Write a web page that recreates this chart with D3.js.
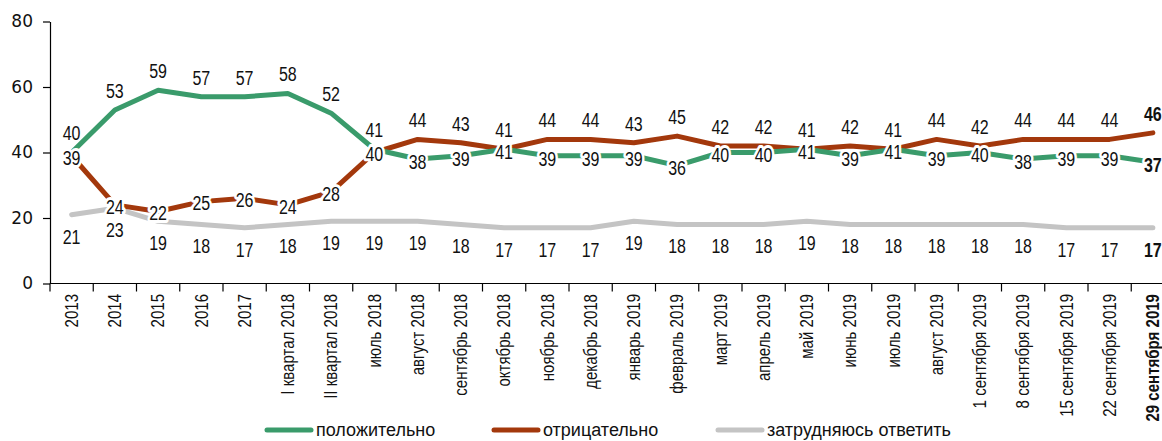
<!DOCTYPE html>
<html>
<head>
<meta charset="utf-8">
<script src="https://cdn.jsdelivr.net/npm/d3@7"></script>
<style>
  body { margin: 0; background: #fff; }
  svg { display: block; }
</style>
</head>
<body>
<script>
// categories along the x axis
var categories = ["2013", "2014", "2015", "2016", "2017", "I квартал 2018", "II квартал 2018",
  "июль 2018", "август 2018", "сентябрь 2018", "октябрь 2018", "ноябрь 2018", "декабрь 2018",
  "январь 2019", "февраль 2019", "март 2019", "апрель 2019", "май 2019", "июнь 2019", "июль 2019",
  "август 2019", "1 сентября 2019", "8 сентября 2019", "15 сентября 2019", "22 сентября 2019",
  "29 сентября 2019"];

var positive = [40, 53, 59, 57, 57, 58, 52, 41, 38, 39, 41, 39, 39, 39, 36, 40, 40, 41, 39, 41, 39, 40, 38, 39, 39, 37];
var negative = [39, 24, 22, 25, 26, 24, 28, 40, 44, 43, 41, 44, 44, 43, 45, 42, 42, 41, 42, 41, 44, 42, 44, 44, 44, 46];
var hardToSay = [21, 23, 19, 18, 17, 18, 19, 19, 19, 18, 17, 17, 17, 19, 18, 18, 18, 19, 18, 18, 18, 18, 18, 17, 17, 17];

var yTicks = [0, 20, 40, 60, 80];
var seriesNames = ["положительно", "отрицательно", "затрудняюсь ответить"];

var w = 1162, h = 441;
var green = "#3a9b6b", red = "#a3380c", grey = "#c4c4c4";
var sans = "'Liberation Sans', Arial, sans-serif";
var squeeze = 0.82;   // narrow look, like Arial Narrow

var svg = d3.select("body").append("svg")
  .attr("width", w)
  .attr("height", h);

var x = d3.scaleBand()
  .domain(categories)
  .range([50, 50 + categories.length * 43.25]);

var y = d3.scaleLinear()
  .domain([0, 80])
  .range([283.5, 21.5]);

var cx = function(i) { return x(categories[i]) + x.bandwidth() / 2; };

// y axis
var yAxis = svg.append("g")
  .attr("transform", "translate(50,0)")
  .call(d3.axisLeft(y).tickValues(yTicks).tickSize(7).tickSizeOuter(0).tickPadding(10));
yAxis.select(".domain").attr("stroke", "#000").attr("stroke-width", 1.2);
yAxis.selectAll(".tick line").attr("stroke", "#000").attr("stroke-width", 1.2);
yAxis.selectAll("text")
  .attr("font-family", "'DejaVu Sans', sans-serif")
  .attr("font-size", "17px")
  .attr("fill", "#111");

// x axis: base line, boundary ticks, rotated labels
svg.append("line")
  .attr("x1", 50).attr("x2", w)
  .attr("y1", 283.5).attr("y2", 283.5)
  .attr("stroke", "#000").attr("stroke-width", 1.2);

svg.selectAll(".xtick")
  .data(categories)
  .enter()
  .append("line")
  .attr("class", "xtick")
  .attr("x1", function(d) { return x(d); })
  .attr("x2", function(d) { return x(d); })
  .attr("y1", 283.5)
  .attr("y2", 291.5)
  .attr("stroke", "#000")
  .attr("stroke-width", 1.2);

svg.selectAll(".xlabel")
  .data(categories)
  .enter()
  .append("text")
  .attr("class", "xlabel")
  .attr("transform", function(d) {
    return "translate(" + (x(d) + x.bandwidth() / 2) + ",294) rotate(-90) scale(" + 0.86 + ",1)";
  })
  .attr("text-anchor", "end")
  .attr("dy", "0.35em")
  .attr("font-family", sans)
  .attr("font-size", "17.5px")
  .attr("font-weight", function(d, i) { return i == categories.length - 1 ? "bold" : "normal"; })
  .attr("fill", "#111")
  .text(function(d) { return d; });

// lines
var line = d3.line()
  .x(function(d, i) { return cx(i); })
  .y(function(d) { return y(d); });

[[hardToSay, grey], [negative, red], [positive, green]].forEach(function(s) {
  svg.append("path")
    .datum(s[0])
    .attr("d", line)
    .attr("fill", "none")
    .attr("stroke", s[1])
    .attr("stroke-width", 5)
    .attr("stroke-linejoin", "round")
    .attr("stroke-linecap", "round");
});

// value labels
function labels(data, cls, offset, halo) {
  svg.selectAll("." + cls)
    .data(data)
    .enter()
    .append("text")
    .attr("class", cls)
    .attr("transform", function(d, i) {
      return "translate(" + cx(i) + "," + (y(d) + offset(i)) + ") scale(" + squeeze + ",1)";
    })
    .attr("dy", "0.35em")
    .attr("text-anchor", "middle")
    .attr("font-family", sans)
    .attr("font-size", "19.5px")
    .attr("font-weight", function(d, i) { return i == data.length - 1 ? "bold" : "normal"; })
    .attr("fill", "#111")
    .attr("stroke", function(d, i) { return halo(i) ? "#fff" : "none"; })
    .attr("stroke-width", 6)
    .attr("stroke-linejoin", "round")
    .attr("paint-order", "stroke")
    .text(function(d) { return d; });
}

labels(hardToSay, "lg", function() { return 22; }, function() { return false; });
labels(negative, "lr", function(i) { return i < 8 ? 2 : -19; }, function(i) { return i < 8; });
labels(positive, "lp", function(i) { return i < 8 ? -19 : 3; }, function(i) { return i >= 8; });

// legend
var legendX = [265, 492, 716];
var legendColors = [green, red, grey];
var legend = svg.selectAll(".legend")
  .data(seriesNames)
  .enter()
  .append("g")
  .attr("class", "legend")
  .attr("transform", function(d, i) { return "translate(" + legendX[i] + ",430)"; });

legend.append("line")
  .attr("x1", 2).attr("x2", 46)
  .attr("y1", 0).attr("y2", 0)
  .attr("stroke", function(d, i) { return legendColors[i]; })
  .attr("stroke-width", 5)
  .attr("stroke-linecap", "round");

legend.append("text")
  .attr("x", 51)
  .attr("dy", "0.35em")
  .attr("font-family", sans)
  .attr("font-size", "18px")
  .attr("fill", "#111")
  .text(function(d) { return d; });
</script>
</body>
</html>
